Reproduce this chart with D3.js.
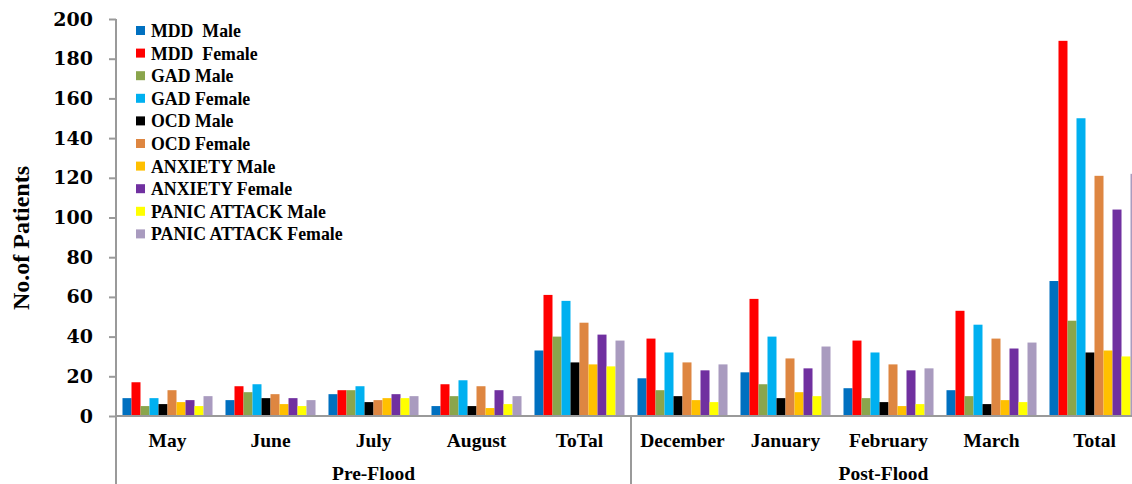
<!DOCTYPE html>
<meta charset="utf-8">
<script src="https://d3js.org/d3.v7.min.js"></script>
<style>
  body { margin: 0; background: #fff; }
  text { font-family: "Liberation Serif", serif; font-weight: bold; fill: #000; }
</style>
<div id="chart"></div>
<script>
// categories and groups
var categories = ["May", "June", "July", "August", "ToTal", "December", "January", "February", "March", "Total"];
var groups = ["Pre-Flood", "Post-Flood"];
var yTicks = [0, 20, 40, 60, 80, 100, 120, 140, 160, 180, 200];

// series values, one per category
var mddMale       = [9, 8, 11, 5, 33, 19, 22, 14, 13, 68];
var mddFemale     = [17, 15, 13, 16, 61, 39, 59, 38, 53, 189];
var gadMale       = [5, 12, 13, 10, 40, 13, 16, 9, 10, 48];
var gadFemale     = [9, 16, 15, 18, 58, 32, 40, 32, 46, 150];
var ocdMale       = [6, 9, 7, 5, 27, 10, 9, 7, 6, 32];
var ocdFemale     = [13, 11, 8, 15, 47, 27, 29, 26, 39, 121];
var anxietyMale   = [7, 6, 9, 4, 26, 8, 12, 5, 8, 33];
var anxietyFemale = [8, 9, 11, 13, 41, 23, 24, 23, 34, 104];
var panicMale     = [5, 5, 9, 6, 25, 7, 10, 6, 7, 30];
var panicFemale   = [10, 8, 10, 10, 38, 26, 35, 24, 37, 122];

var seriesNames = ["MDD  Male", "MDD  Female", "GAD Male", "GAD Female", "OCD Male", "OCD Female",
                   "ANXIETY Male", "ANXIETY Female", "PANIC ATTACK Male", "PANIC ATTACK Female"];
var seriesValues = [mddMale, mddFemale, gadMale, gadFemale, ocdMale, ocdFemale,
                    anxietyMale, anxietyFemale, panicMale, panicFemale];
var colors = ["#0070C0", "#FF0000", "#8AA54C", "#00B0F0", "#000000", "#DE8641",
              "#FFC000", "#7030A0", "#FFFF00", "#A99BBF"];

var W = 1132, H = 484;
var plotLeft = 116, plotRight = 1146, plotTop = 19, plotBottom = 416;

var svg = d3.select("#chart").append("svg")
    .attr("width", W)
    .attr("height", H);

// scales
var x0 = d3.scaleBand()
    .domain(categories)
    .range([plotLeft, plotRight])
    .paddingInner(0.126)
    .paddingOuter(0.063);

var x1 = d3.scaleBand()
    .domain(d3.range(seriesNames.length))
    .range([0, x0.bandwidth()]);

var y = d3.scaleLinear()
    .domain([0, 200])
    .range([plotBottom, plotTop]);

var axisColor = "#9a9a9a";

// y axis
var yAxis = svg.append("g")
    .attr("transform", "translate(" + plotLeft + ",0)")
    .call(d3.axisLeft(y).tickValues(yTicks).tickSize(7).tickSizeOuter(0).tickPadding(16));
yAxis.select(".domain").remove();
yAxis.selectAll("line").attr("stroke", axisColor).attr("stroke-width", 2);
yAxis.selectAll("text")
    .style("font-family", "'DejaVu Serif', serif")
    .style("font-weight", "bold")
    .style("font-size", "19px")
    .attr("fill", "#000");

// bars
var bars = svg.append("g");
categories.forEach(function(cat, ci) {
  var g = bars.append("g").attr("transform", "translate(" + x0(cat) + ",0)");
  seriesValues.forEach(function(vals, si) {
    g.append("rect")
      .attr("x", x1(si))
      .attr("y", y(vals[ci]))
      .attr("width", x1.bandwidth())
      .attr("height", y(0) - y(vals[ci]))
      .attr("fill", colors[si]);
  });
});

// x axis labels
var xAxis = svg.append("g")
    .attr("transform", "translate(0," + plotBottom + ")")
    .call(d3.axisBottom(x0).tickSize(0).tickPadding(17));
xAxis.select(".domain").remove();
xAxis.selectAll("text")
    .style("font-family", "'Liberation Serif', serif")
    .style("font-weight", "bold")
    .style("font-size", "19.5px")
    .attr("fill", "#000");

// axis lines
svg.append("line")
    .attr("x1", plotLeft).attr("x2", W)
    .attr("y1", y(0)).attr("y2", y(0))
    .attr("stroke", axisColor).attr("stroke-width", 2);
svg.append("line")
    .attr("x1", plotLeft).attr("x2", plotLeft)
    .attr("y1", y(200)).attr("y2", H)
    .attr("stroke", axisColor).attr("stroke-width", 2);

// group separators and labels
var groupEdges = [plotLeft, x0("December") - x0.step() * 0.063, plotRight];
svg.append("line")
    .attr("x1", groupEdges[1]).attr("x2", groupEdges[1])
    .attr("y1", y(0)).attr("y2", H)
    .attr("stroke", axisColor).attr("stroke-width", 2);

svg.selectAll(".grp")
  .data(groups)
  .enter().append("text")
    .attr("class", "grp")
    .attr("x", function(d, i) { return (groupEdges[i] + groupEdges[i + 1]) / 2 - (i == 1 ? 5 : 0); })
    .attr("y", 480)
    .attr("text-anchor", "middle")
    .style("font-size", "19.5px")
    .text(function(d) { return d; });

// y title
svg.append("text")
    .attr("transform", "translate(29,238) rotate(-90)")
    .attr("text-anchor", "middle")
    .style("font-size", "24px")
    .text("No.of Patients");

// legend
var legend = svg.append("g").attr("transform", "translate(136,31)");
seriesNames.forEach(function(name, i) {
  var row = legend.append("g").attr("transform", "translate(0," + (i * 22.6) + ")");
  row.append("rect")
    .attr("x", 0).attr("y", -5)
    .attr("width", 9).attr("height", 9)
    .attr("fill", colors[i]);
  row.append("text")
    .attr("x", 15).attr("y", 6)
    .style("font-size", "17.8px")
    .style("white-space", "pre")
    .attr("xml:space", "preserve")
    .text(name);
});
</script>
